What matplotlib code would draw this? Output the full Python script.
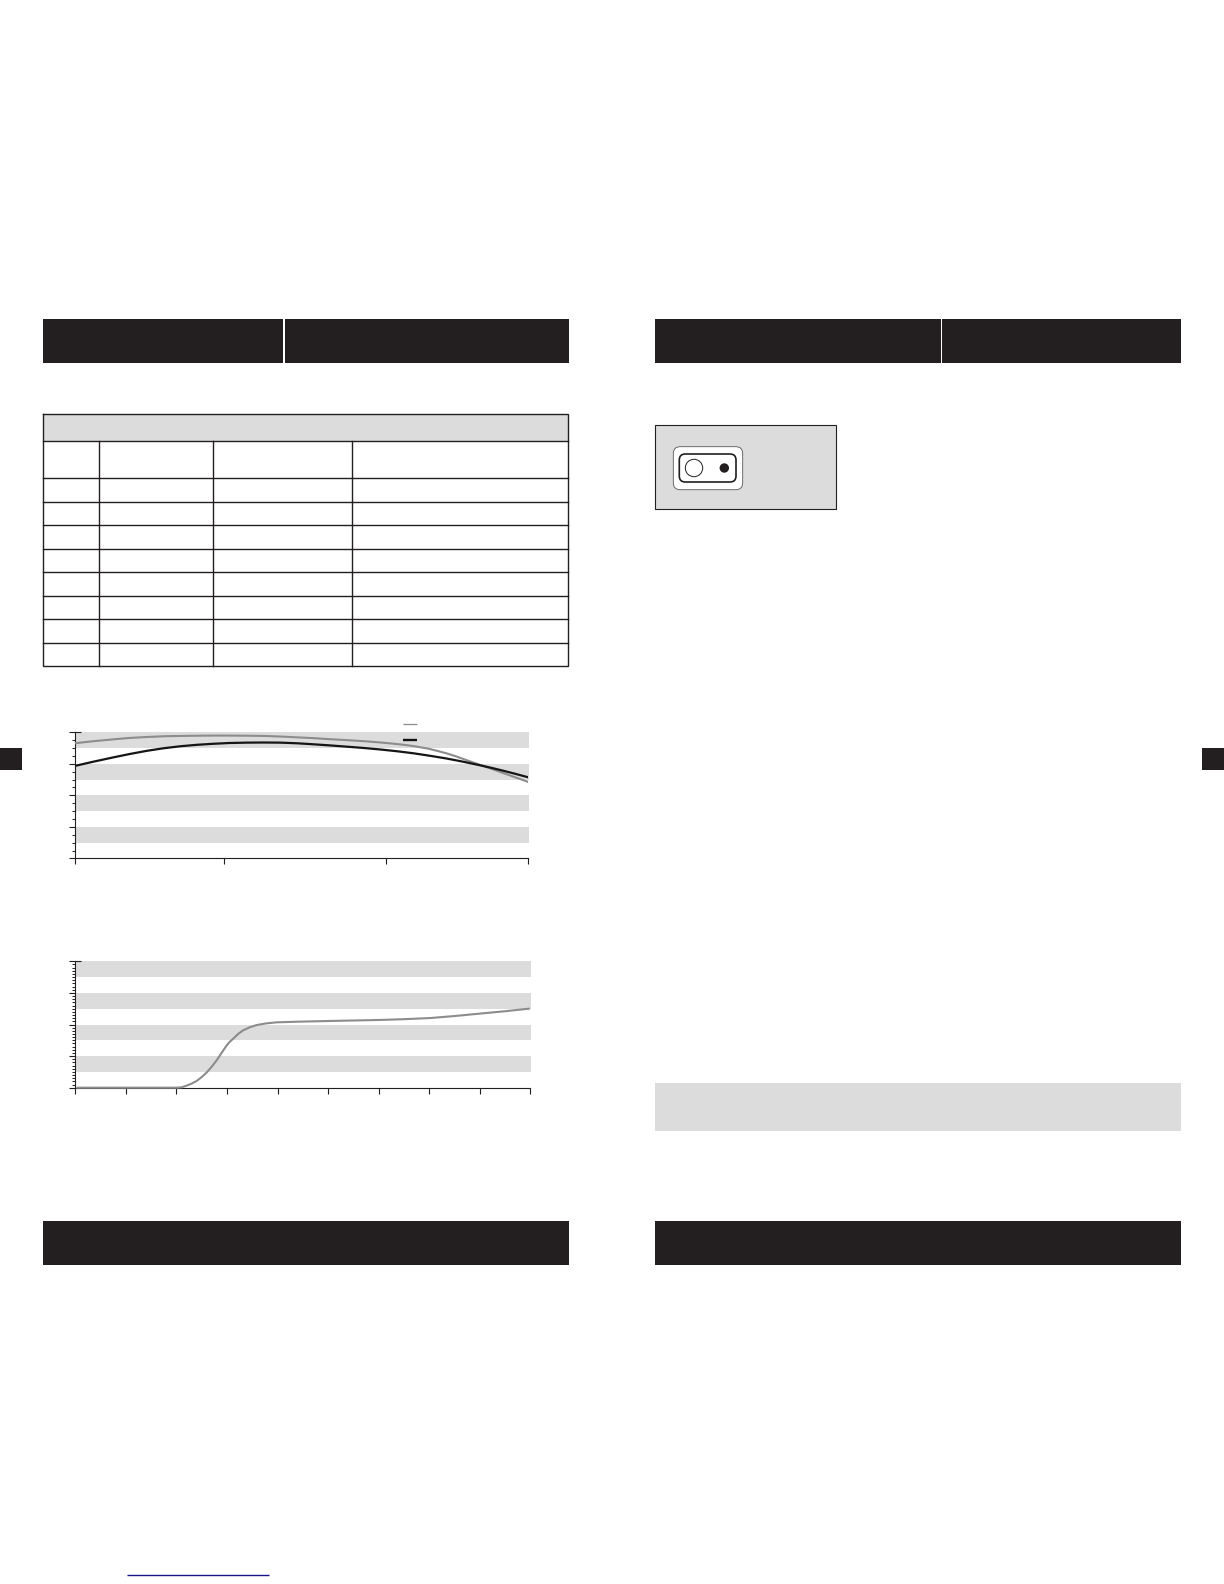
import matplotlib
matplotlib.use("Agg")
import matplotlib.pyplot as plt
from matplotlib.patches import Rectangle, FancyBboxPatch, Circle
from matplotlib.ticker import FixedLocator, NullFormatter

# ---- chart data (axis units are relative) ----
resp_x_gray = [0, 4, 8.5, 12, 16, 20, 25, 30, 34, 38, 42, 45.5, 49, 52.5, 56, 60, 64, 67.5, 71, 73, 75,
               78, 80, 82, 84, 86, 88, 90, 93, 96.5, 100]
resp_y_gray = [91.3, 92.9, 94.4, 95.5, 96.3, 96.9, 97.2, 97.4, 97.4, 97.3, 97.1, 96.6, 96.0, 95.4, 94.6,
               93.8, 92.9, 91.9, 90.7, 89.9, 88.9, 87.0, 85.2, 83.3, 81.0, 78.4, 75.9, 73.4, 69.6, 65.1, 60.6]
resp_x_black = [0, 4, 8.5, 12, 15.9, 19.5, 23.2, 27, 30.6, 34, 37.9, 41.5, 45.3, 49, 52.6, 56.3, 60, 63.6,
                67.3, 71, 74.6, 78.3, 82, 85.6, 89.3, 92, 94.5, 97, 100]
resp_y_black = [73.3, 76.6, 80.1, 82.7, 85.3, 87.3, 88.9, 90.1, 90.9, 91.5, 91.8, 91.9, 91.8, 91.3, 90.5,
                89.6, 88.6, 87.6, 86.4, 85.0, 83.4, 81.4, 79.2, 76.7, 73.9, 71.7, 69.5, 67.2, 64.3]
resp_xticks = [0, 32.9, 68.7, 100]

imp_x = [0.04, 2.0, 2.1, 2.2, 2.3, 2.4, 2.5, 2.6, 2.7, 2.8, 2.9, 3.0, 3.06, 3.13, 3.22, 3.32, 3.45, 3.59,
         3.78, 3.98, 4.38, 5.04, 6.03, 6.5, 7.02, 7.5, 8.0, 8.5, 8.97]
imp_y = [0, 0, 0.3, 1.6, 3.2, 5.3, 8.4, 12.1, 16.7, 21.9, 27.9, 33.8, 36.5, 39.0, 42.5, 45.4, 47.8, 49.6,
         50.9, 51.7, 52.2, 52.8, 53.6, 54.2, 55.1, 56.7, 58.6, 60.5, 62.5]
imp_xticks = [0, 1, 2, 3, 4, 5, 6, 7, 8, 9]

y_major = [0, 25, 50, 75, 100]
band_low = [12.5, 37.5, 62.5, 87.5]
band_high = [25, 50, 75, 100]

# ---- page layout (pixels) ----
W, H = 1224, 1584
DARK = "#231f20"
LIGHT = "#dcdcdc"
GRAY_LINE = "#8c8c8c"

fig = plt.figure(figsize=(W / 100, H / 100), dpi=100, facecolor="white")
page = fig.add_axes([0, 0, 1, 1], zorder=0)
page.set_xlim(0, W)
page.set_ylim(H, 0)
page.axis("off")
overlay = fig.add_axes([0, 0, 1, 1], zorder=5)
overlay.set_xlim(0, W)
overlay.set_ylim(H, 0)
overlay.axis("off")


def box(x0, y0, x1, y1, fc=DARK, ec="none", lw=0):
    page.add_patch(Rectangle((x0, y0), x1 - x0, y1 - y0, facecolor=fc, edgecolor=ec, linewidth=lw))


# header and footer bars
for x0, x1 in [(43, 283), (285, 568.7), (654.5, 941), (942.3, 1180.7)]:
    box(x0, 319, x1, 362.7)
box(43, 1221, 568.7, 1265)
box(654.5, 1221, 1180.7, 1265)
box(654.5, 1083, 1180.7, 1131, fc=LIGHT)
box(0, 748, 22, 770)
box(1202, 748, 1224, 770)

# table
TLW = 1.0
tx = [43.3, 99.2, 213.2, 352.2, 568.3]
ty = [441.3, 478.3, 502.3, 525.3, 549.3, 572.3, 596.3, 619.3, 643.3, 666.3]
box(tx[0], 414.3, tx[-1], ty[0], fc=LIGHT)
page.plot([tx[0], tx[-1], tx[-1], tx[0], tx[0]], [414.3, 414.3, ty[-1], ty[-1], 414.3],
          color=DARK, lw=TLW, solid_joinstyle="miter")
for y in ty[:-1]:
    page.plot([tx[0], tx[-1]], [y, y], color=DARK, lw=TLW)
for x in tx[1:-1]:
    page.plot([x, x], [ty[0], ty[-1]], color=DARK, lw=TLW)

# switch panel
box(655.3, 425, 836, 509.3, fc=LIGHT, ec=DARK, lw=0.8)
page.add_patch(FancyBboxPatch((673.3, 446.7), 69.4, 43, boxstyle="round,pad=0,rounding_size=7",
                              facecolor="white", edgecolor="#555555", linewidth=0.6))
page.add_patch(FancyBboxPatch((679.3, 454), 56.7, 28, boxstyle="round,pad=0,rounding_size=6",
                              facecolor="white", edgecolor=DARK, linewidth=1.2))
page.add_patch(Circle((694, 468), 8.7, facecolor="white", edgecolor=DARK, linewidth=0.7))
page.add_patch(Circle((724.3, 468), 4.7, facecolor=DARK, edgecolor="none"))

# legend keys of the first chart
overlay.plot([403.3, 416.7], [724.3, 724.3], color=GRAY_LINE, lw=0.9, solid_capstyle="butt")
overlay.plot([403.3, 416.7], [739.7, 739.7], color="#111111", lw=1.7, solid_capstyle="butt")

# link rule at the page foot
page.plot([127, 269], [1575, 1575], color="#16168a", lw=1.0, solid_capstyle="butt")


def chart(x0, x1, ytop, ybot, xlim, xticks, n_minor, over):
    ax = fig.add_axes([x0 / W, 1 - ybot / H, (x1 - x0) / W, (ybot - ytop) / H], zorder=2)
    ax.patch.set_alpha(0)
    ax.set_xlim(*xlim)
    ax.set_ylim(0, 100)
    for spine in ("top", "right"):
        ax.spines[spine].set_visible(False)
    for spine in ("left", "bottom"):
        ax.spines[spine].set_color(DARK)
        ax.spines[spine].set_linewidth(0.8)
    for lo, hi in zip(band_low, band_high):
        ax.axhspan(lo, hi, xmin=0, xmax=1 + over / (x1 - x0), facecolor=LIGHT, edgecolor="none",
                   zorder=0, clip_on=False)
    ax.xaxis.set_major_locator(FixedLocator(xticks))
    ax.yaxis.set_major_locator(FixedLocator(y_major))
    step = 25 / n_minor
    ax.yaxis.set_minor_locator(FixedLocator([i * step for i in range(0, 4 * n_minor + 1) if i % n_minor]))
    ax.xaxis.set_major_formatter(NullFormatter())
    ax.yaxis.set_major_formatter(NullFormatter())
    ax.tick_params(axis="both", which="major", length=4.3, width=0.8, color=DARK)
    ax.tick_params(axis="y", which="minor", length=2.2, width=0.7, color=DARK)
    # short cap at the top of the value axis
    ax.plot([0, 6 / (x1 - x0)], [1, 1], transform=ax.transAxes, color=DARK, lw=0.8,
            clip_on=False, solid_capstyle="butt")
    return ax


ax1 = chart(74.7, 528.3, 732.3, 858.4, (0, 100), resp_xticks, 4, 0.5)
ax1.plot(resp_x_gray, resp_y_gray, color=GRAY_LINE, lw=1.5, zorder=3, solid_joinstyle="round")
ax1.plot(resp_x_black, resp_y_black, color="#151515", lw=1.6, zorder=4, solid_joinstyle="round")

ax2 = chart(75.3, 530.3, 961.3, 1087.7, (0, 9), imp_xticks, 10, 1.2)
ax2.plot(imp_x, imp_y, color=GRAY_LINE, lw=1.5, zorder=3, solid_joinstyle="round", clip_on=False)

fig.savefig("out.png", dpi=100, facecolor="white")
